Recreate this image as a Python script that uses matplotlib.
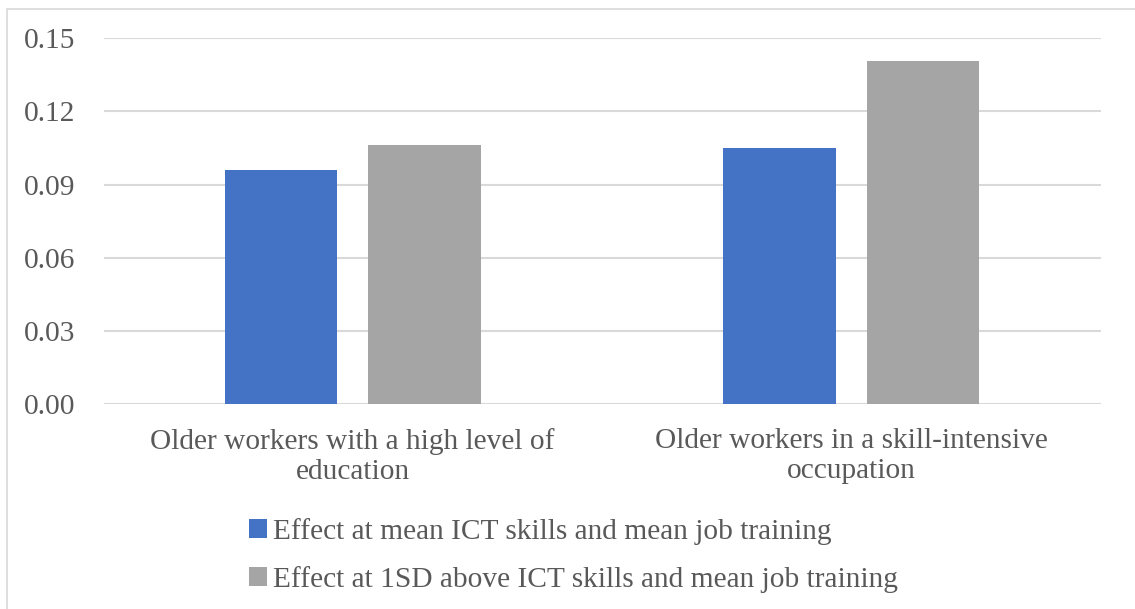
import matplotlib
matplotlib.use("Agg")
import matplotlib.pyplot as plt
from matplotlib.patches import Rectangle
import numpy as np

# values
groups = ["Older workers with a high level of\neducation",
          "Older workers in a skill-intensive\noccupation"]
mean_effect = [0.0959, 0.1049]
sd_effect = [0.1063, 0.1408]
series_names = ["Effect at mean ICT skills and mean job training",
                "Effect at 1SD above ICT skills and mean job training"]
yticks = [0.00, 0.03, 0.06, 0.09, 0.12, 0.15]

txt_col = '#595959'
grid_col = '#d9d9d9'
blue = '#4472C4'
grey = '#A5A5A5'
fs = 21.2

plt.rcParams['font.family'] = ['Liberation Serif', 'DejaVu Serif']

W, H = 1135, 609
fig = plt.figure(figsize=(W / 100, H / 100), dpi=100)

# chart frame
fig.patches.append(Rectangle((7 / W, -0.05), 1.2, 1 - 9 / H + 0.05,
                             transform=fig.transFigure, fill=False,
                             edgecolor=grid_col, lw=1.2))

ax = fig.add_axes([103.5 / W, 1 - 404.3 / H, 997 / W, 366 / H])
x = np.arange(len(groups))
bw = 0.226
off = 0.144
ax.bar(x - off, mean_effect, bw, color=blue, label=series_names[0], zorder=3)
ax.bar(x + off, sd_effect, bw, color=grey, label=series_names[1], zorder=3)

ax.set_xlim(-0.5, 1.5)
ax.set_ylim(0, 0.15)
ax.set_yticks(yticks)
ax.set_yticklabels(['%.2f' % v for v in yticks])
ax.set_xticks(x)
ax.set_xticklabels(groups, linespacing=1.2)
ax.yaxis.grid(True, color=grid_col, lw=1.5, zorder=0)
for s in ax.spines.values():
    s.set_visible(False)
ax.tick_params(axis='both', length=0, labelsize=fs, colors=txt_col)
ax.tick_params(axis='y', pad=20)
ax.tick_params(axis='x', pad=17)

handles, labels = ax.get_legend_handles_labels()
fig.legend(handles, labels, loc='upper left', bbox_to_anchor=(249 / W, 1 - 518 / H),
           frameon=False, fontsize=fs, handlelength=0.6, handleheight=0.6,
           handletextpad=0.2, labelspacing=0.72, labelcolor=txt_col,
           borderaxespad=0, borderpad=0)

fig.savefig('out.png', dpi=100)
